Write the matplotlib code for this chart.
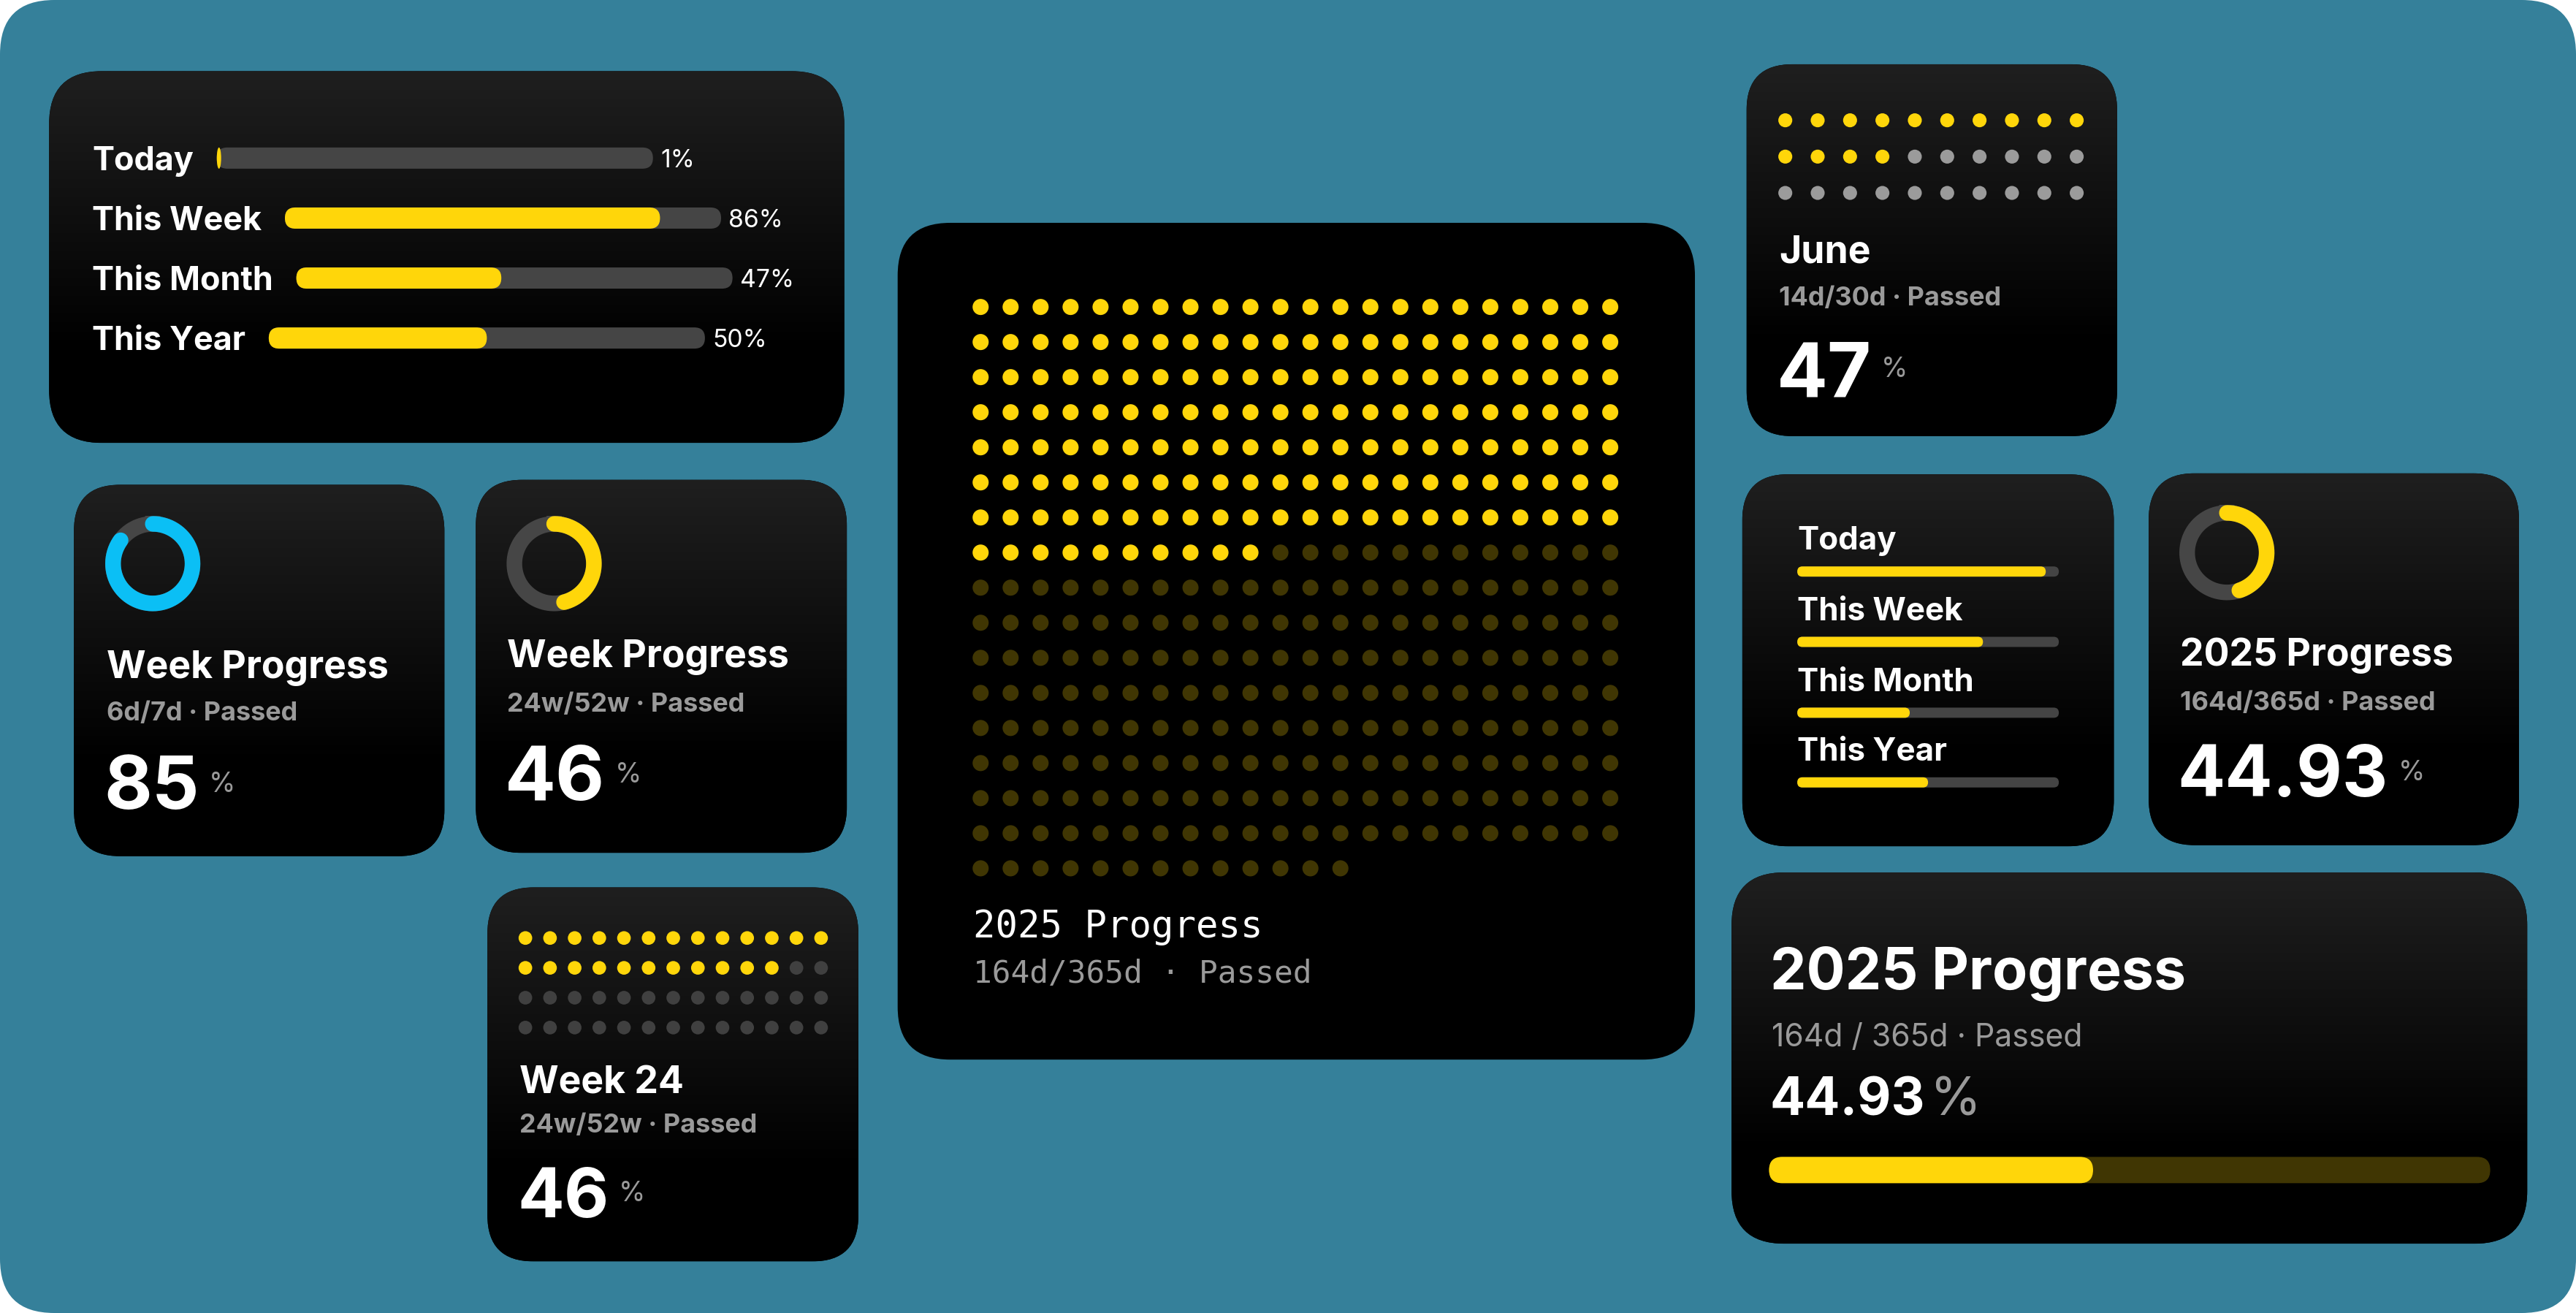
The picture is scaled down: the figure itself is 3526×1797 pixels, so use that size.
import numpy as np
import matplotlib.pyplot as plt
from matplotlib.patches import FancyBboxPatch, Ellipse

# layout units follow the reference at 1568 px wide
W, H = 1568, 799
PT = 3526 / W * 72 / 100  # points per layout unit
CAP = 0.727               # cap height / font size for Inter

YELLOW = '#FFD60A'
BLUE = '#0BBFF5'
DIM_YELLOW = '#403603'
TRACK = '#464646'
GRAY_TXT = '#9a9a9a'
TEAL = '#35809a'
SANS = 'Inter'
MONO = 'DejaVu Sans Mono'
SEMI = 'bold'

# ---- data ----
bar_labels = ['Today', 'This Week', 'This Month', 'This Year']
bar_pct_left = [1, 86, 47, 50]
bar_pct_right = [95, 71, 43, 50]

ring_titles = ['Week Progress', 'Week Progress', '2025 Progress']
ring_subs = ['6d/7d · Passed', '24w/52w · Passed', '164d/365d · Passed']
ring_values = [85, 46, 44.93]
ring_numbers = ['85', '46', '44.93']

week_dots_total, week_dots_done = 52, 24
june_dots_total, june_dots_done = 30, 14
year_dots_total, year_dots_done = 365, 164

year_pct = 44.93
year_title = '2025 Progress'
year_sub_mono = '164d/365d · Passed'
year_sub_wide = '164d / 365d · Passed'
year_number = '44.93'

fig = plt.figure(figsize=(35.26, 17.97), dpi=100)
fig.patch.set_facecolor('white')
ax = fig.add_axes([0, 0, 1, 1])
ax.set_xlim(0, W)
ax.set_ylim(H, 0)
ax.axis('off')
renderer = fig.canvas.get_renderer()

ax.add_patch(FancyBboxPatch((0, 0), W, H, boxstyle='round,pad=0,rounding_size=33',
                            fc=TEAL, ec='none', zorder=0))


def card(x0, y0, x1, y1, r=28, flat=False):
    p = FancyBboxPatch((x0, y0), x1 - x0, y1 - y0, boxstyle=f'round,pad=0,rounding_size={r}',
                       fc='black', ec='none', zorder=1)
    ax.add_patch(p)
    if not flat:
        g = np.clip(1 - np.linspace(0, 1, 256) / 0.75, 0, 1) * 31 / 255
        img = np.repeat(g[:, None, None], 3, axis=2)
        im = ax.imshow(img, extent=[x0, x1, y1, y0], origin='upper', aspect='auto',
                       interpolation='bilinear', zorder=1.5)
        im.set_clip_path(p)


def txt(x, base, s, size, color='white', weight='normal', family=SANS):
    return ax.text(x, base, s, fontsize=size * PT, color=color, fontweight=weight,
                   family=family, ha='left', va='baseline', zorder=3)


def right_edge(t):
    bb = t.get_window_extent(renderer=renderer)
    return ax.transData.inverted().transform((bb.x1, bb.y0))[0]


def pill(x0, yc, w, h, color):
    if w >= h:
        ax.add_patch(FancyBboxPatch((x0, yc - h / 2), w, h,
                                    boxstyle=f'round,pad=0,rounding_size={h / 2}',
                                    fc=color, ec='none', zorder=2))
    else:
        ax.add_patch(Ellipse((x0 + w / 2, yc), w, h, fc=color, ec='none', zorder=2))


def ring(cx, cy, pct, color, r=24.2, lw=9.5):
    t = np.linspace(0, 2 * np.pi, 300)
    ax.plot(cx + r * np.sin(t), cy - r * np.cos(t), color=TRACK, lw=lw * PT, zorder=2)
    a = np.linspace(0, 2 * np.pi * pct / 100, 300)
    ax.plot(cx + r * np.sin(a), cy - r * np.cos(a), color=color, lw=lw * PT,
            solid_capstyle='round', zorder=2.5)


def dots(x0, y0, dx, dy, total, done, ncols, d, off_color):
    idx = np.arange(total)
    xs = x0 + (idx % ncols) * dx
    ys = y0 + (idx // ncols) * dy
    cols = [YELLOW if i < done else off_color for i in idx]
    ax.scatter(xs, ys, s=(d * PT) ** 2, c=cols, linewidths=0, zorder=2)


def big_number(x, base, num, size, pct_base, pct_size=16.5, gap=6):
    t = txt(x - 1.5, base, num, size, weight='bold')
    txt(right_edge(t) + gap, pct_base, '%', pct_size, color=GRAY_TXT)


# ---- card 1: horizontal bars with labels ----
card(29.9, 43.3, 513.9, 269.5, r=32)
bar_y = [96.2, 132.7, 169.2, 205.7]
for lab, pct, yc in zip(bar_labels, bar_pct_left, bar_y):
    fs = 20
    t = txt(56.2, yc + CAP * fs / 2, lab, fs, weight=SEMI)
    x0 = right_edge(t) + 14
    wtrack = 265.5
    pill(x0, yc, wtrack, 12.9, '#454545')
    pill(x0, yc, wtrack * pct / 100, 12.9, YELLOW)
    txt(x0 + wtrack + 4.5, yc + CAP * 15 / 2, f'{pct}%', 15)

# ---- ring cards ----
ring_cards = [
    dict(box=(45, 295, 270.5, 521), c=(93, 343), col=BLUE, x=64.8,
         b=(412.5, 438.6, 492, 482), size=45),
    dict(box=(289.6, 292, 515.5, 519), c=(337.3, 343), col=YELLOW, x=308.7,
         b=(406, 433, 487, 476), size=46),
    dict(box=(1307.9, 288, 1533.3, 514.3), c=(1355.5, 336.3), col=YELLOW, x=1327,
         b=(405.1, 432.2, 484.6, 475), size=43),
]
for rc, title, sub, val, num in zip(ring_cards, ring_titles, ring_subs, ring_values, ring_numbers):
    card(*rc['box'])
    ring(*rc['c'], val, rc['col'])
    b = rc['b']
    txt(rc['x'], b[0], title, 23, weight='bold')
    txt(rc['x'], b[1], sub, 16, color=GRAY_TXT, weight=SEMI)
    big_number(rc['x'], b[2], num, rc['size'], b[3])

# ---- week 24 dots card ----
card(296.7, 540, 522.5, 767.6)
dots(319.8, 570.8, 15.0, 18.17, week_dots_total, week_dots_done, 13, 8.3, '#404040')
txt(316.3, 665.3, 'Week 24', 23, weight='bold')
txt(316.3, 689.3, '24w/52w · Passed', 16, color=GRAY_TXT, weight=SEMI)
big_number(316.3, 740.7, '46', 42, 731)

# ---- year dots card (monospace) ----
card(546.4, 135.6, 1031.7, 644.8, r=32, flat=True)
dots(596.9, 186.8, 18.25, 21.35, year_dots_total, year_dots_done, 22, 9.8, DIM_YELLOW)
txt(592.4, 570.6, year_title, 22.5, family=MONO)
txt(592.4, 598, year_sub_mono, 19, color=GRAY_TXT, family=MONO)

# ---- june dots card ----
card(1063.1, 39.1, 1288.7, 265.4)
dots(1086.7, 73.2, 19.71, 22.1, june_dots_total, june_dots_done, 10, 8.5, '#9b9b9b')
txt(1082.8, 160, 'June', 23, weight='bold')
txt(1082.8, 185.8, '14d/30d · Passed', 16, color=GRAY_TXT, weight=SEMI)
big_number(1082.8, 241.3, '47', 46, 229.5)

# ---- stacked bars card ----
card(1060.5, 288.6, 1286.7, 515)
lab_base = [334.5, 377.3, 420.4, 462.8]
for lab, pct, base in zip(bar_labels, bar_pct_right, lab_base):
    txt(1094, base, lab, 19.5, weight=SEMI)
    w = 1253.2 - 1094
    pill(1094, base + 13.3, w, 6.2, '#444444')
    pill(1094, base + 13.3, w * pct / 100, 6.2, YELLOW)

# ---- wide year card ----
card(1054, 530.9, 1538.3, 756.8, r=32)
txt(1077.4, 602.2, year_title, 35, weight='bold')
txt(1078.4, 636.6, year_sub_wide, 19, color=GRAY_TXT)
t = txt(1077.4, 678.7, year_number, 31.7, weight='bold')
txt(right_edge(t) + 3, 678.7, '%', 31.7, color=GRAY_TXT)
wbar = 1515.8 - 1076.8
pill(1076.8, 712, wbar, 16, DIM_YELLOW)
pill(1076.8, 712, wbar * year_pct / 100, 16, YELLOW)

fig.savefig('out.png', dpi=100, facecolor='white')
